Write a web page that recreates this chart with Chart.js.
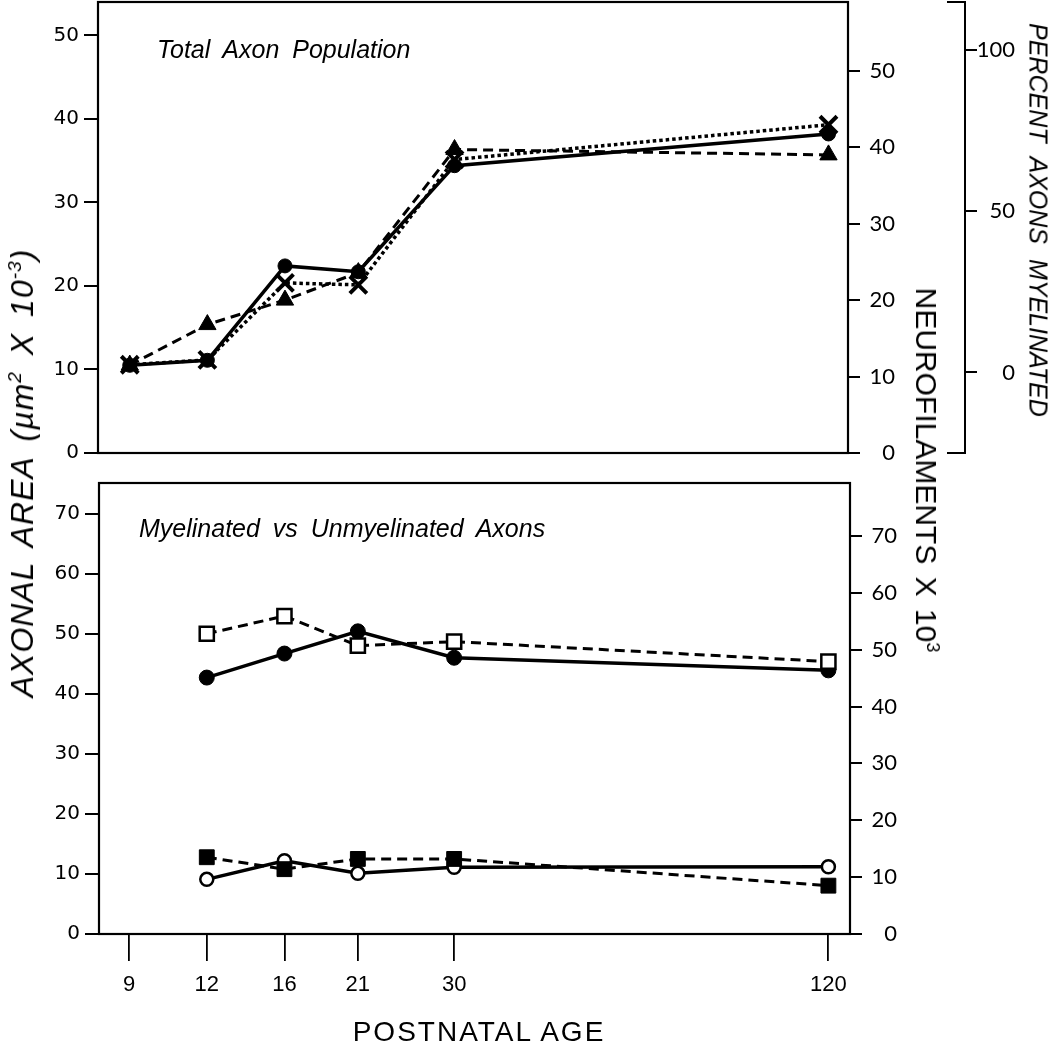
<!DOCTYPE html>
<html><head><meta charset="utf-8">
<script src="https://cdn.jsdelivr.net/npm/chart.js@4"></script>
<style>
html,body{margin:0;padding:0;background:#fff;}
#wrap{position:relative;width:1050px;height:1050px;overflow:hidden;background:#fff;}
canvas{position:absolute;left:0;}
.lbl{position:absolute;white-space:nowrap;color:#000;font-family:'Liberation Sans',Arial,sans-serif;line-height:1;}
.rot{transform:translate(-50%,-50%) rotate(90deg);}
.rotl{transform:translate(-50%,-50%) rotate(-90deg);}
sup{font-size:60%;vertical-align:0.6em;line-height:0;}
</style></head>
<body><div id="wrap">
<canvas id="cTop" width="1050" height="470" style="top:0"></canvas>
<canvas id="cBot" width="1050" height="580" style="top:470px"></canvas>
<div class="lbl" style="left:157px;top:37px;font-size:25px;font-style:italic;word-spacing:6px">Total Axon Population</div>
<div class="lbl" style="left:139px;top:516px;font-size:25px;font-style:italic;word-spacing:6px">Myelinated vs Unmyelinated Axons</div>
<div class="lbl rotl" style="left:22px;top:473px;font-size:32px;font-style:italic;letter-spacing:1px;word-spacing:6px">AXONAL AREA (µm<sup>2</sup> X 10<sup>-3</sup>)</div>
<div class="lbl rot" style="left:926px;top:470px;font-size:30px;word-spacing:4px">NEUROFILAMENTS X 10<sup>3</sup></div>
<div class="lbl rot" style="left:1038px;top:220px;font-size:25px;font-style:italic;word-spacing:8px">PERCENT AXONS MYELINATED</div>
<div class="lbl" style="left:479px;top:1032px;font-size:28px;letter-spacing:2px;transform:translate(-50%,-50%);">POSTNATAL AGE</div>
</div>
<script>
// ---- data ----
const ages = [9, 12, 16, 21, 30, 120];
const totalArea = [10.5, 11.1, 22.4, 21.7, 34.4, 38.2];
const totalNeurofilaments = [11.5, 16.8, 20.0, 23.6, 39.7, 39.0];
const percentMyelinated = [2.4, 3.9, 27.8, 27.2, 66.1, 76.9];

const agesSplit = [12, 16, 21, 30, 120];
const largeArea = [42.7, 46.7, 50.4, 46.0, 43.9];          // filled circles, solid
const largeNeurofilaments = [52.8, 55.9, 50.7, 51.4, 47.9]; // open squares, dashed
const smallArea = [9.1, 12.2, 10.1, 11.1, 11.2];            // open circles, solid
const smallNeurofilaments = [13.5, 11.4, 13.2, 13.2, 8.5];  // filled squares, dashed

const ageTicks = [9, 12, 16, 21, 30, 120];
const areaTicksTop = [0, 10, 20, 30, 40, 50];
const nfTicksTop = [0, 10, 20, 30, 40, 50];
const percentTicks = [0, 50, 100];
const areaTicksBottom = [0, 10, 20, 30, 40, 50, 60, 70];
const nfTicksBottom = [0, 10, 20, 30, 40, 50, 60, 70];

// ---- helpers ----
const pts = (xs, ys) => xs.map((x, i) => ({x: x, y: ys[i]}));
const leftFont = {family: "'DejaVu Sans', Verdana, sans-serif", size: 20};
const rightFont = {family: "Lato, 'Open Sans', sans-serif", size: 22};
const xFont = {family: "'Liberation Sans Narrow', 'Liberation Sans', Arial, sans-serif", size: 22};

function noPad(s) { s.paddingTop = 0; s.paddingBottom = 0; s.paddingLeft = 0; s.paddingRight = 0; }

function yAxis(position, min, max, tickArr, width, font, opts) {
  opts = opts || {};
  return {
    type: 'linear', position: position, min: min, max: max,
    weight: opts.weight || 0,
    afterBuildTicks: s => { s.ticks = tickArr.map(v => ({value: v})); },
    afterFit: s => { s.width = width; noPad(s); },
    grid: {display: true, drawOnChartArea: false, drawTicks: true, tickLength: opts.tl || 13, color: '#000', lineWidth: 2},
    border: {display: !!opts.border, color: '#000', width: 2},
    ticks: {font: font, color: '#000', padding: opts.pad || 5, crossAlign: opts.cross || 'near', autoSkip: false}
  };
}
function spacer(width, weight) {
  return {
    type: 'linear', position: 'right', weight: weight, display: true,
    afterFit: s => { s.width = width; noPad(s); },
    grid: {display: false}, border: {display: false}, ticks: {display: false}
  };
}

const boxPlugin = {
  id: 'box',
  beforeDatasetsDraw(chart) {
    const {ctx, chartArea: a} = chart;
    ctx.save();
    ctx.strokeStyle = '#000'; ctx.lineWidth = 2.2;
    ctx.strokeRect(a.left, a.top, a.right - a.left, a.bottom - a.top);
    if (chart.scales.yPct) {
      const s = chart.scales.yPct;
      ctx.lineWidth = 2;
      ctx.beginPath();
      ctx.moveTo(s.left - 18, a.top); ctx.lineTo(s.left, a.top);
      ctx.moveTo(s.left - 18, a.bottom); ctx.lineTo(s.left, a.bottom);
      ctx.stroke();
    }
    ctx.restore();
  }
};

const common = {
  responsive: false, animation: false, events: [],
  plugins: {legend: {display: false}, tooltip: {enabled: false}, title: {display: false}}
};

// ---- top chart ----
new Chart(document.getElementById('cTop'), {
  type: 'line',
  data: {datasets: [
    {data: pts(ages, percentMyelinated), yAxisID: 'yPct', borderColor: '#000', borderWidth: 3.5, borderDash: [3.5, 3],
     pointStyle: 'crossRot', pointRadius: 12, pointHoverRadius: 12, pointBorderWidth: 4, pointBorderColor: '#000', pointBackgroundColor: '#000', tension: 0},
    {data: pts(ages, totalNeurofilaments), yAxisID: 'yNf', borderColor: '#000', borderWidth: 3, borderDash: [10, 6],
     pointStyle: 'triangle', pointRadius: 10, pointHoverRadius: 10, pointBorderWidth: 1, pointBorderColor: '#000', pointBackgroundColor: '#000', tension: 0},
    {data: pts(ages, totalArea), yAxisID: 'yArea', borderColor: '#000', borderWidth: 3.5,
     pointStyle: 'circle', pointRadius: 7, pointHoverRadius: 7, pointBorderWidth: 1, pointBorderColor: '#000', pointBackgroundColor: '#000', tension: 0}
  ]},
  options: Object.assign({}, common, {
    layout: {autoPadding: false, padding: {top: 2, bottom: 17, left: 0, right: 35}},
    scales: {
      x: {type: 'logarithmic', min: 8, max: 129, display: false},
      yArea: yAxis('left', 0, 54, areaTicksTop, 98, leftFont, {tl: 14, pad: 5}),
      yNf: yAxis('right', 0, 59, nfTicksTop, 47, rightFont, {tl: 12, pad: 10, cross: 'far', weight: 0}),
      gap: spacer(70, 1),
      yPct: yAxis('right', -25, 115, percentTicks, 50, rightFont, {tl: 12, pad: 2, cross: 'far', weight: 2, border: true})
    }
  }),
  plugins: [boxPlugin]
});

// ---- bottom chart ----
new Chart(document.getElementById('cBot'), {
  type: 'line',
  data: {datasets: [
    {data: pts(agesSplit, largeNeurofilaments), yAxisID: 'yNf', borderColor: '#000', borderWidth: 3, borderDash: [10, 6],
     pointStyle: 'rect', pointRadius: 10, pointHoverRadius: 10, pointBorderWidth: 2.5, pointBorderColor: '#000', pointBackgroundColor: '#fff', tension: 0},
    {data: pts(agesSplit, smallNeurofilaments), yAxisID: 'yNf', borderColor: '#000', borderWidth: 3, borderDash: [10, 6],
     pointStyle: 'rect', pointRadius: 10.5, pointHoverRadius: 10.5, pointBorderWidth: 1, pointBorderColor: '#000', pointBackgroundColor: '#000', tension: 0},
    {data: pts(agesSplit, largeArea), yAxisID: 'yArea', borderColor: '#000', borderWidth: 3.5,
     pointStyle: 'circle', pointRadius: 7.5, pointHoverRadius: 7.5, pointBorderWidth: 1, pointBorderColor: '#000', pointBackgroundColor: '#000', tension: 0},
    {data: pts(agesSplit, smallArea), yAxisID: 'yArea', borderColor: '#000', borderWidth: 3.5,
     pointStyle: 'circle', pointRadius: 6.5, pointHoverRadius: 6.5, pointBorderWidth: 2.5, pointBorderColor: '#000', pointBackgroundColor: '#fff', tension: 0}
  ]},
  options: Object.assign({}, common, {
    layout: {autoPadding: false, padding: {top: 13, bottom: 0, left: 0, right: 153}},
    scales: {
      x: {type: 'logarithmic', min: 8.05, max: 130, position: 'bottom',
          afterBuildTicks: s => { s.ticks = ageTicks.map(v => ({value: v})); },
          afterFit: s => { s.height = 116; noPad(s); },
          grid: {display: true, drawOnChartArea: false, drawTicks: true, tickLength: 27, color: '#000', lineWidth: 1.8},
          border: {display: false},
          ticks: {font: xFont, color: '#000', padding: 11, maxRotation: 0, autoSkip: false, callback: v => String(v)}},
      yArea: yAxis('left', 0, 75.1, areaTicksBottom, 99, leftFont, {tl: 14, pad: 5}),
      yNf: yAxis('right', 0, 79.3, nfTicksBottom, 47, rightFont, {tl: 12, pad: 10, cross: 'far'})
    }
  }),
  plugins: [boxPlugin]
});
</script>
</body></html>
